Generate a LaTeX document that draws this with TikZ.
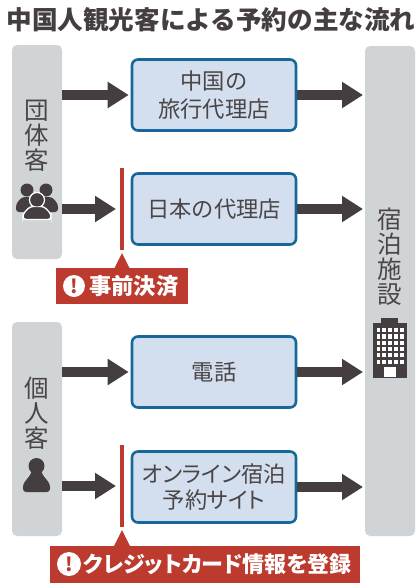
\documentclass[tikz,border=0pt]{standalone}
\usepackage{fontspec}
\setmainfont{Noto Sans CJK JP}
\newfontfamily\palt[RawFeature=+palt]{Noto Sans CJK JP}
\usetikzlibrary{arrows.meta}
\definecolor{ink}{HTML}{453E40}
\definecolor{txt}{HTML}{4A4546}
\definecolor{panel}{HTML}{D0D4D6}
\definecolor{bluefill}{HTML}{D3DFEE}
\definecolor{blueline}{HTML}{17689A}
\definecolor{redc}{HTML}{BC3A2E}
\newcommand{\fs}[1]{\fontsize{#1pt}{#1pt}\selectfont}
\tikzset{
 x=1pt,y=-1pt,
 panelbox/.style={fill=panel,rounded corners=5pt,inner sep=0,outer sep=0,minimum width=50pt},
 flowbox/.style={draw=blueline,line width=2.6pt,fill=bluefill,rounded corners=6pt,minimum width=164pt,minimum height=71pt,inner sep=0,outer sep=1.3pt,align=center,text=txt,font=\fs{22.3}},
 flow/.style={draw=ink,line width=10pt,-{Triangle[length=21pt,width=25pt]},shorten >=2pt},
 vlabel/.style={text=txt,align=center,inner sep=0,font=\fs{24.5}},
 redbar/.style={draw=redc,line width=3.4pt},
 redtag/.style={fill=redc,text=white,inner sep=0,outer sep=0,minimum height=36pt,font=\bfseries\fs{21.5}},
 alert/.style={circle,fill=white,text=redc,inner sep=0,minimum size=22pt,font=\bfseries\fs{19}},
}
\begin{document}
\begin{tikzpicture}
\useasboundingbox (0,0) rectangle (417,587);
\fill[white] (0,0) rectangle (417,587);
\node[anchor=center,text=ink,font=\bfseries\fs{25.6},inner sep=0] (title) at (211,20) {中国人観光客による予約の主な流れ};
% panels
\node[panelbox,minimum height=214pt] (grp) at (37,152) {};
\node[panelbox,minimum height=214pt] (ind) at (37,429) {};
\node[panelbox,minimum height=490pt] (hotel) at (390,291) {};
\node[vlabel] (grpt) at (37,136) {団\\[0.5pt]体\\[0.5pt]客};
\node[vlabel] (indt) at (37,413) {個\\[0.5pt]人\\[0.5pt]客};
\node[vlabel] (hott) at (390,257) {宿\\[0.5pt]泊\\[0.5pt]施\\[0.5pt]設};
% boxes
\node[flowbox] (b1) at (214,95) {中国の\\[5pt]旅行代理店};
\node[flowbox] (b2) at (214,209) {日本の代理店};
\node[flowbox] (b3) at (214,372) {電話};
\node[flowbox] (b4) at (214,487) {\palt オンライン宿泊\\[4pt]\palt 予約サイト};
% red barriers
\coordinate (r1t) at (122,168);
\coordinate (r1b) at (122,250);
\coordinate (r2t) at (122,445);
\coordinate (r2b) at (122,527);
\coordinate (a2) at (62,209);
\coordinate (a4) at (62,486);
\draw[flow] (grp.east |- b1.west) -- (b1.west);
\draw[flow,shorten >=0pt] (a2) -- ([xshift=-6pt]r1t |- a2);
\draw[flow] (ind.east |- b3.west) -- (b3.west);
\draw[flow,shorten >=0pt] (a4) -- ([xshift=-6pt]r2t |- a4);
\draw[flow] (b1.east) -- (hotel.west |- b1.east);
\draw[flow] (b2.east) -- (hotel.west |- b2.east);
\draw[flow] (b3.east) -- (hotel.west |- b3.east);
\draw[flow] (b4.east) -- (hotel.west |- b4.east);
\draw[redbar] (r1t) -- (r1b);
\draw[redbar] (r2t) -- (r2b);
% tags
\node[redtag,minimum width=132pt] (tag1) at (122,286) {};
\fill[redc] (122,253) -- (130,269) -- (114,269) -- cycle;
\node[alert] (al1) at (74,286) {!};
\node[anchor=west,text=white,font=\bfseries\fs{22.3},inner sep=0] (tag1t) at (89,286) {事前決済};
\node[redtag,minimum width=310pt,minimum height=37pt] (tag2) at (205,564) {};
\fill[redc] (122,530) -- (130,546) -- (114,546) -- cycle;
\node[alert,minimum size=24pt] (al2) at (69,564) {!};
\node[anchor=west,text=white,font=\bfseries\fs{22},inner sep=0] (tag2t) at (83,564) {\palt\bfseries クレジットカード情報を登録};
% group icon
\begin{scope}[fill=ink]
 \fill (27,190) circle (6.5);
 \fill (46,190) circle (6.5);
 \fill[rounded corners=3pt] (16,212) -- (16,204) -- (22,197) -- (32,197) -- (37,204) -- (42,197) -- (52,197) -- (58,204) -- (58,212) -- cycle;
 \fill[draw=white,line width=1.3pt] (37,200) circle (7.5);
 \fill[draw=white,line width=1.3pt,rounded corners=3pt] (23,219.5) -- (23,214) -- (30,206.5) -- (44,206.5) -- (51,214) -- (51,219.5) -- cycle;
 \fill (37,200) circle (6.5);
 % single person
 \fill (36.5,466) circle (8);
 \fill[rounded corners=3pt] (23,492) -- (23,484) -- (31,474) -- (32,470) -- (41,470) -- (42,474) -- (50,484) -- (50,492) -- cycle;
 % building
 \fill (381,318) rectangle (398,324);
 \fill (373,323) rectangle (407,378);
\end{scope}
\foreach \r in {0,...,5} \foreach \c in {0,...,4}
  \fill[white] ({376.5+\c*5.9},{328+\r*6.3}) rectangle +(3.8,4.2);
\fill[white] (384,367) rectangle (396,377);
\end{tikzpicture}
\end{document}
